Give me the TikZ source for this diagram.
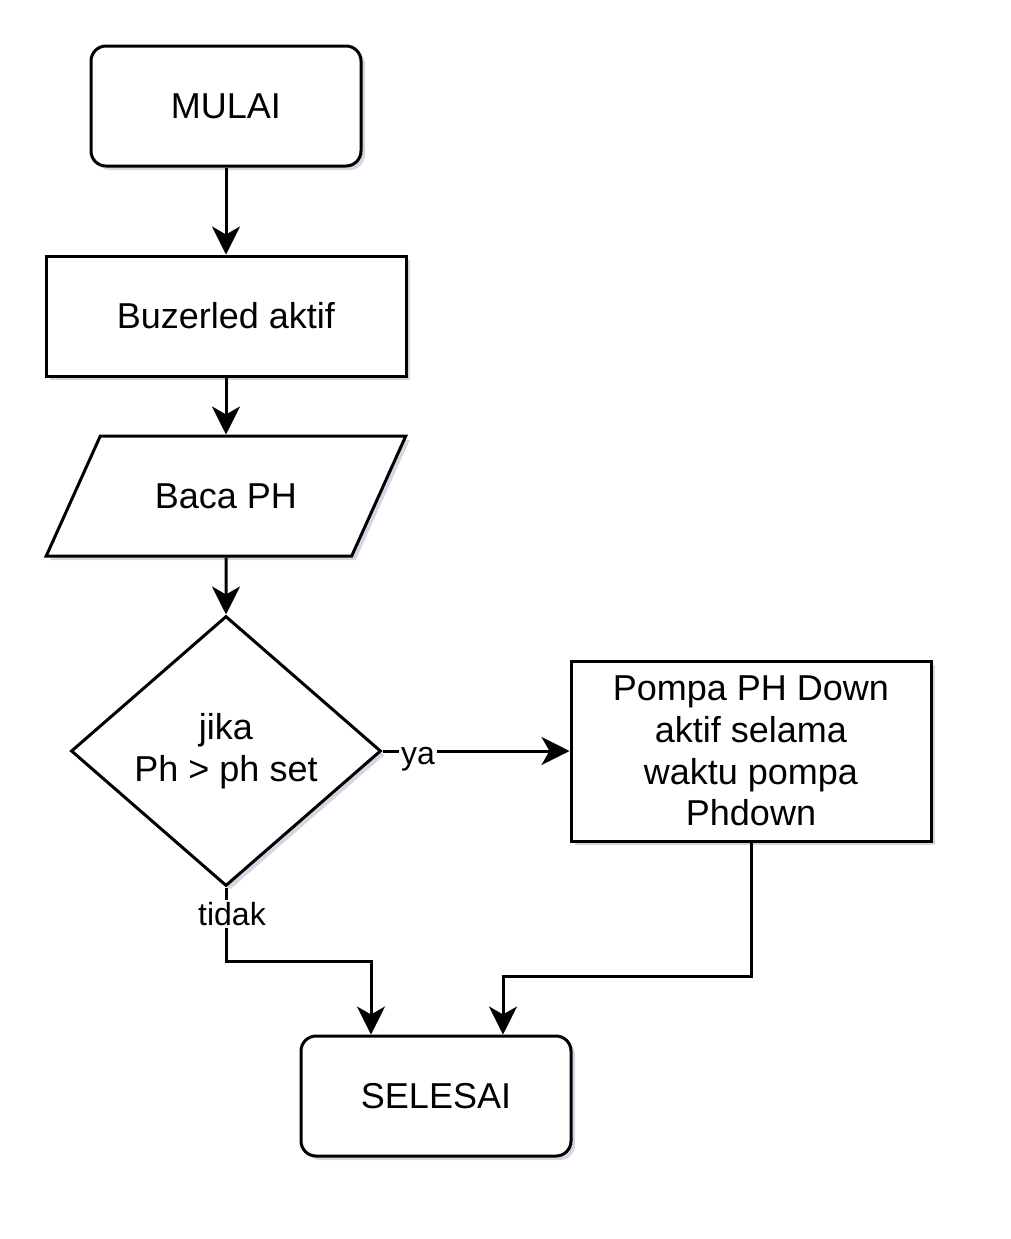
\documentclass[tikz,border=0pt]{standalone}
\usepackage{fontspec}
\setmainfont{Liberation Sans}
\usetikzlibrary{arrows.meta, positioning, shapes.geometric, calc, shadows}

\begin{document}
\begin{tikzpicture}[x=0.5pt, y=-0.5pt, line width=1.5pt,
    base/.style={draw, fill=white, align=center,
      font=\fontsize{18}{20.8}\selectfont,
      drop shadow={shadow xshift=2pt, shadow yshift=-2pt, opacity=0.35, fill={rgb,255:red,140;green,140;blue,175}}},
    terminal/.style={base, rounded corners=7.5pt, minimum width=135pt, minimum height=60pt},
    process/.style={base, inner sep=2pt, minimum width=180pt, minimum height=60pt},
    io/.style={base, trapezium, trapezium left angle=49, trapezium right angle=131,
      trapezium stretches, minimum width=180pt, minimum height=60pt},
    decision/.style={base, diamond, aspect=1.15, inner sep=0pt, minimum width=155pt, minimum height=135pt},
    arrow/.style={-{Stealth[length=14pt, width=14pt, inset=4pt]}},
    edgelabel/.style={fill=white, inner sep=1pt, font=\fontsize{16}{19}\selectfont}]

    \useasboundingbox[fill=white] (0,0) rectangle (1011,1239);

    % Components
    \node[terminal] (mulai) at (226,106) {MULAI};
    \node[process] (buzer) at (226,316) {Buzerled aktif};
    \node[io] (baca) at (226,496) {Baca PH};
    \node[decision] (cek) at (226,751) {jika\\Ph > ph set};
    \node[process, minimum height=90pt] (pompa) at (751,751) {Pompa PH Down\\aktif selama\\waktu pompa\\Phdown};
    \node[terminal] (selesai) at (436,1096) {SELESAI};

    % Bends
    \coordinate (tbend) at (226,961);
    \coordinate (pbend) at (751,976);

    % Flow
    \draw[arrow] (mulai) -- (buzer);
    \draw[arrow] (buzer) -- (baca);
    \draw[arrow] (baca) -- (cek);
    \draw[arrow] (cek.east) -- node[edgelabel, pos=0.19, yshift=-4pt] {ya} (pompa.west);
    \draw[arrow] (cek.south) -- node[edgelabel, pos=0.36, xshift=3pt] {tidak} (tbend) -| ($(selesai.north)+(-65,0)$);
    \draw[arrow] (pompa.south) -- (pbend) -| ($(selesai.north)+(67,0)$);
\end{tikzpicture}
\end{document}
